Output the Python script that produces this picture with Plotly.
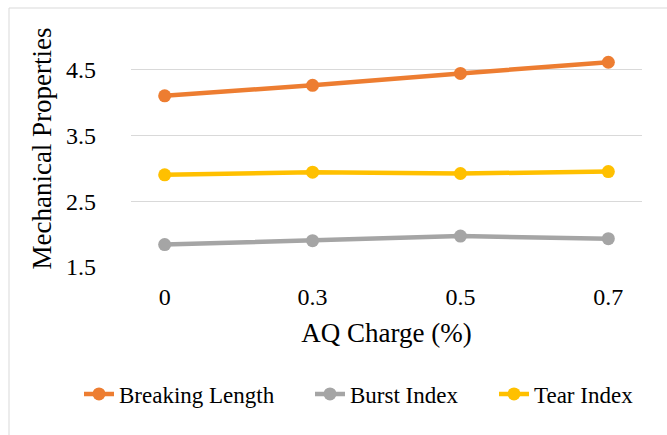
import plotly.graph_objects as go

categories = ["0", "0.3", "0.5", "0.7"]
breaking_length = [4.10, 4.26, 4.44, 4.61]
burst_index = [1.84, 1.90, 1.97, 1.93]
tear_index = [2.90, 2.94, 2.92, 2.95]

W, H = 667, 435
L, R, T, B = 131, 25, 30, 168
FONT = "Liberation Serif"

series = [("Breaking Length", breaking_length, "#ED7D31", "legend", 119),
          ("Burst Index", burst_index, "#A5A5A5", "legend2", 350),
          ("Tear Index", tear_index, "#FFC000", "legend3", 534)]

fig = go.Figure()
for name, vals, col, lg, _ in series:
    fig.add_trace(go.Scatter(x=categories, y=vals, name=name, mode="lines+markers",
                             line=dict(color=col, width=4.5),
                             marker=dict(color=col, size=13), legend=lg))

pw = W - L - R
ph = H - T - B
def px2paper_x(px):
    return (px - L) / pw
def px2paper_y(py):
    return (H - B - py) / ph

fig.add_shape(type="rect", xref="paper", yref="paper",
              x0=px2paper_x(9), x1=px2paper_x(700), y0=px2paper_y(460), y1=px2paper_y(8),
              line=dict(color="#D9D9D9", width=1), fillcolor="rgba(0,0,0,0)", layer="below")

legends = {}
for name, vals, col, lg, text_x in series:
    legends[lg] = dict(orientation="h", xref="container", yref="container",
                       x=(text_x - 40) / W, xanchor="left", y=1 - 394 / H, yanchor="middle",
                       font=dict(size=23, family=FONT), itemwidth=30,
                       bgcolor="rgba(0,0,0,0)", borderwidth=0)

fig.update_layout(
    width=W, height=H,
    margin=dict(l=L, r=R, t=T, b=B),
    paper_bgcolor="white", plot_bgcolor="white",
    font=dict(family=FONT, color="black", size=24),
    showlegend=True,
    **legends,
    xaxis=dict(type="category", showgrid=False, zeroline=False, showline=False,
               ticks="", ticklabelstandoff=13, tickfont=dict(size=24, family=FONT),
               title=dict(text="AQ Charge (%)", font=dict(size=27, family=FONT), standoff=14)),
    yaxis=dict(range=[1.5, 5.1], tickvals=[1.5, 2.5, 3.5, 4.5], ticktext=["1.5", "2.5", "3.5", "4.5"],
               showgrid=True, gridcolor="#D9D9D9", gridwidth=1.3, zeroline=False, showline=False,
               ticks="", ticklabelstandoff=34, tickfont=dict(size=24, family=FONT),
               title=dict(text="Mechanical Properties", font=dict(size=27, family=FONT), standoff=6)),
)

fig.write_html("out.html")
